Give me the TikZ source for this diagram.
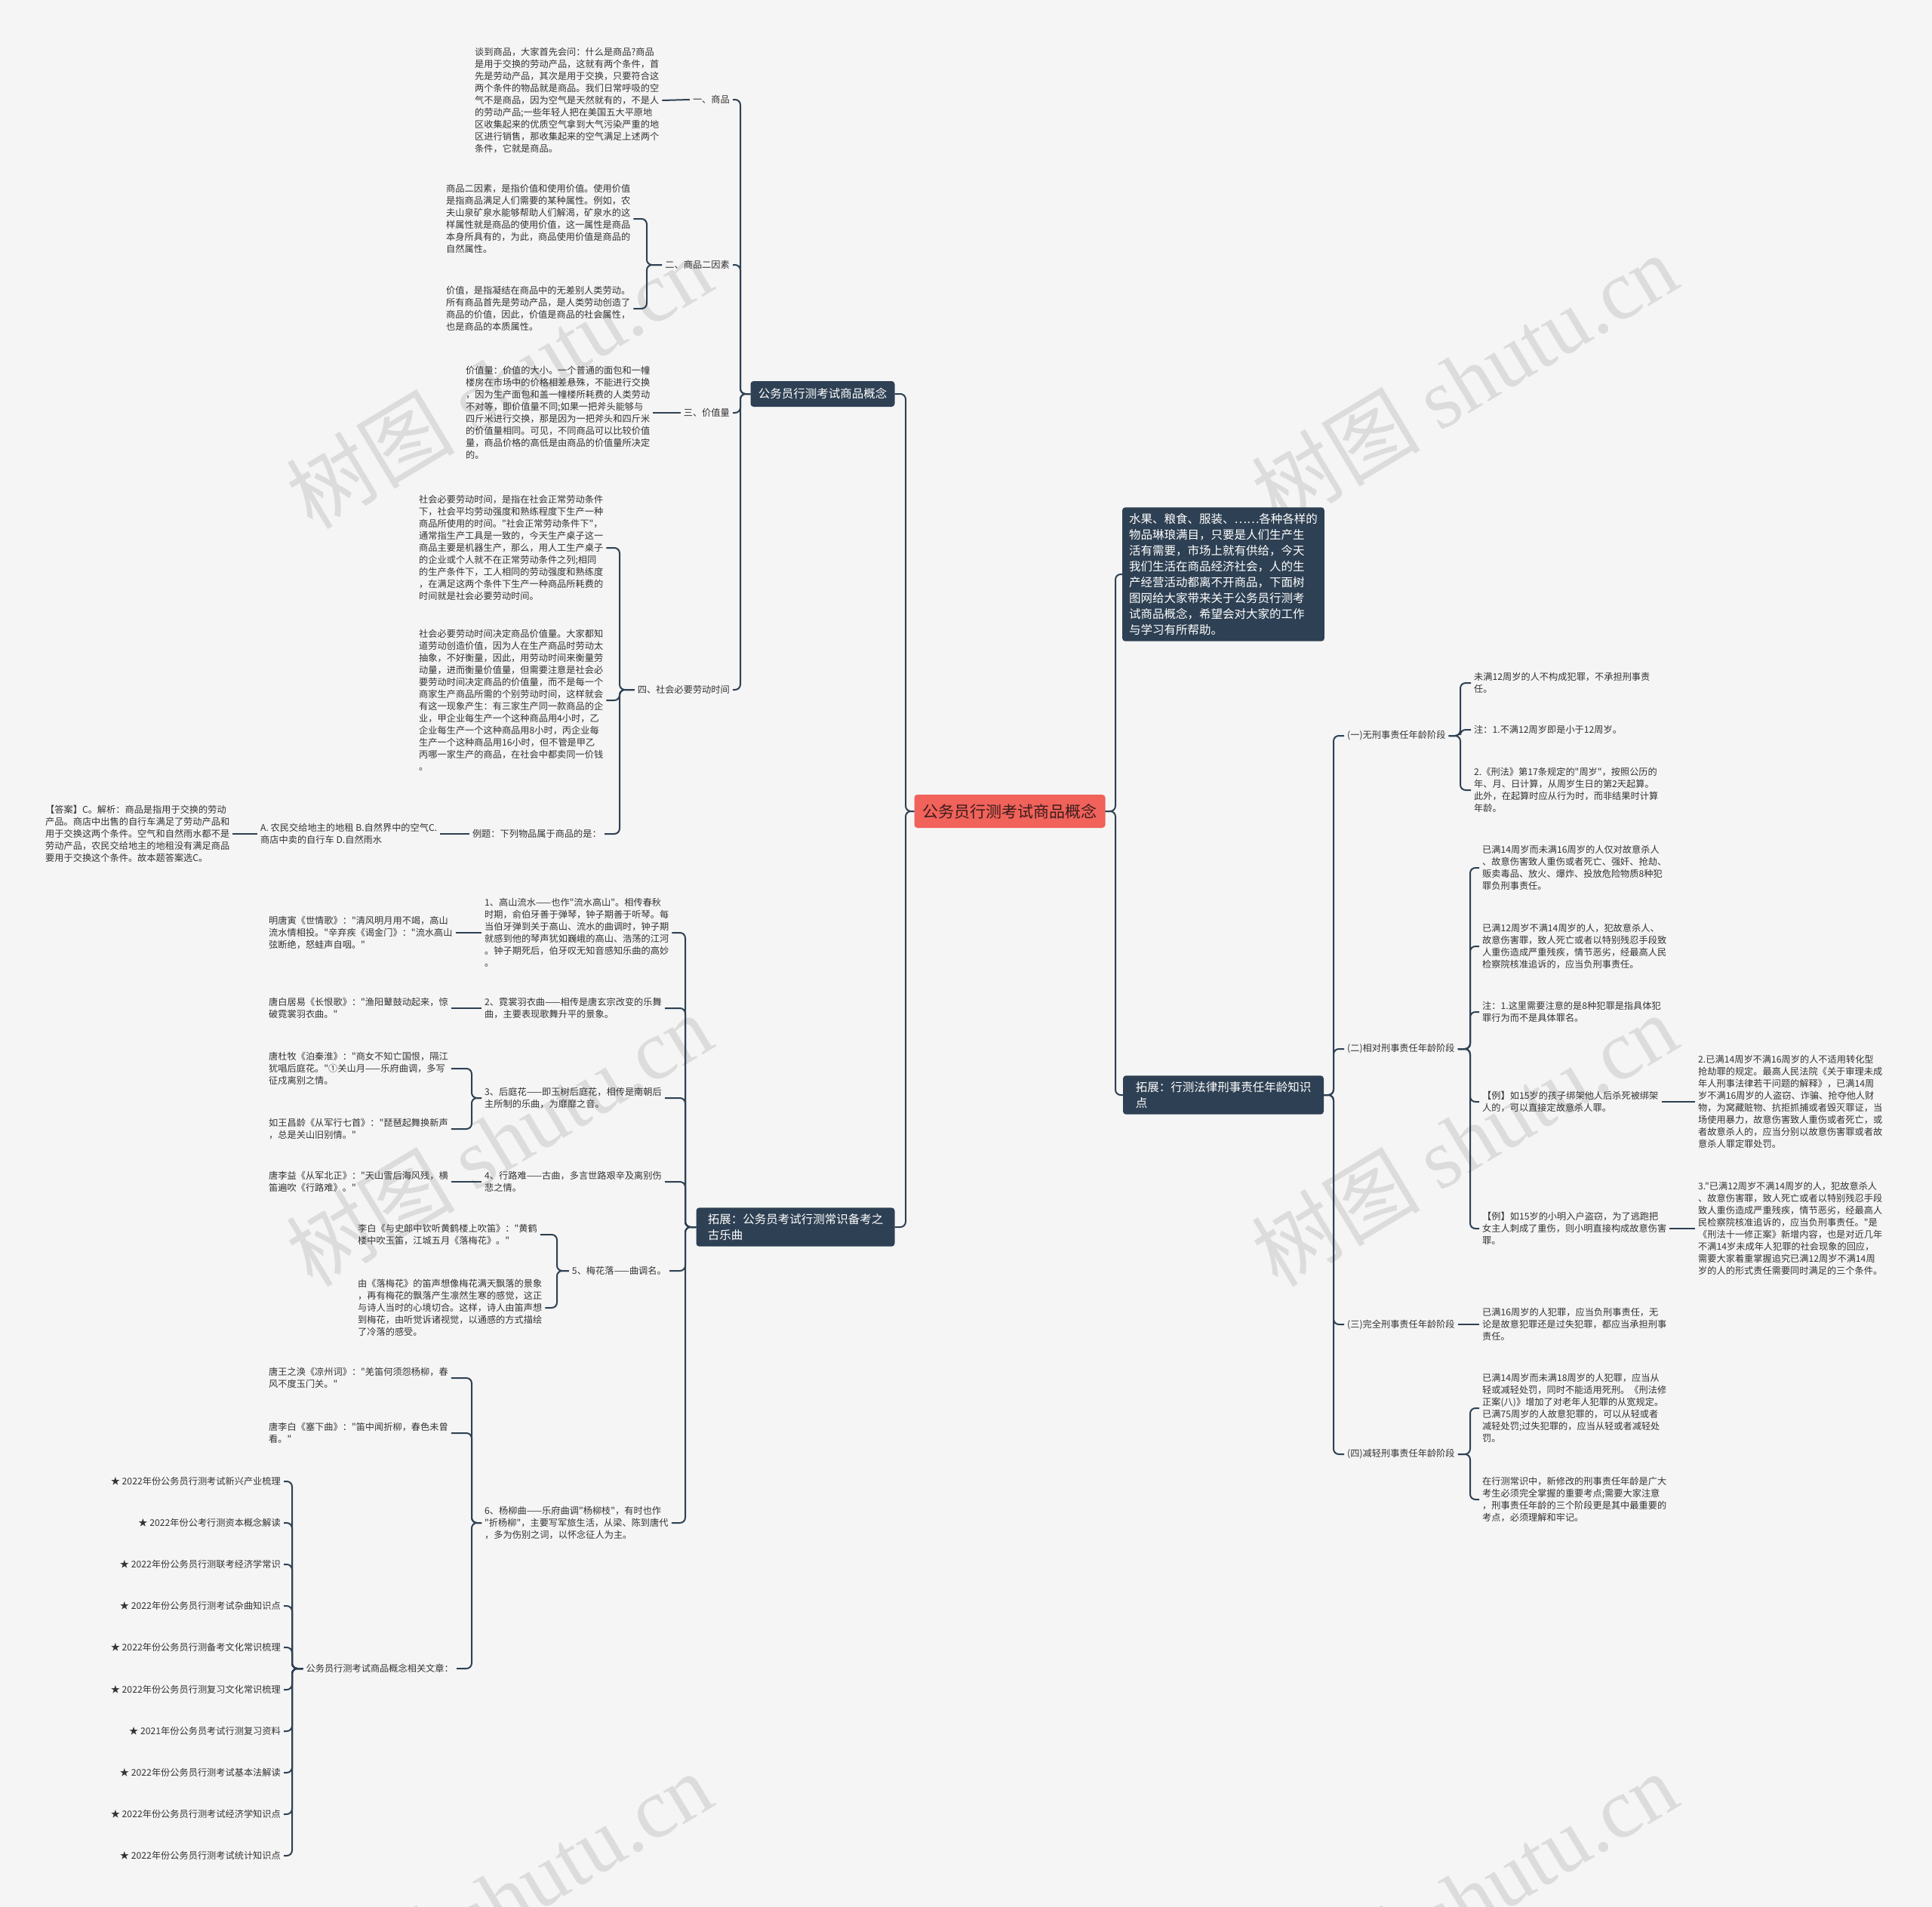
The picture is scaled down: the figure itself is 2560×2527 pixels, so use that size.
\documentclass[tikz,border=0pt]{standalone}
\usepackage{fontspec}
\setmainfont{Noto Sans CJK SC}
\newfontfamily\cjkf{Noto Sans CJK SC}
\newfontfamily\wmfont{Liberation Serif}
\definecolor{bg}{HTML}{F5F5F5}
\definecolor{dk}{HTML}{2E4053}
\definecolor{tc}{HTML}{333333}
\definecolor{rootc}{HTML}{F0625A}
\definecolor{roott}{HTML}{3A1C1C}
\definecolor{wm}{HTML}{DCDCDC}
\tikzset{
 conn/.style={draw=dk, line width=2pt, rounded corners=7pt},
 txt/.style={font=\cjkf\fontsize{12.2}{16}\selectfont, text=tc, align=left, inner xsep=4pt, inner ysep=2pt},
 branch/.style={fill=dk, text=white, rounded corners=4pt, font=\cjkf\fontsize{15.5}{21}\selectfont, align=left, inner xsep=9pt, inner ysep=8pt},
 rootnode/.style={fill=rootc, text=roott, rounded corners=4pt, font=\cjkf\fontsize{21}{24}\selectfont, minimum width=253pt, minimum height=44pt},
 wmark/.style={text=wm, rotate=31, font=\cjkf\fontsize{112}{112}\selectfont}
}
\begin{document}
\begin{tikzpicture}[x=1pt,y=-1pt]
\fill[bg] (0,0) rectangle (2560,2527);
\useasboundingbox (0,0) rectangle (2560,2527);
% watermarks
\foreach \wx/\wy [count=\wi] in {661/506,1940/503,661/1510,1940/1510,661/2515,1940/2515}
  \node[wmark] (wm\wi) at (\wx,\wy) {树图 {\wmfont shutu.cn}};

% trunks
\coordinate (trL) at (1200,0);
\coordinate (trR) at (1478,0);
\coordinate (trA) at (981,0);
\coordinate (tr2) at (857,0);
\coordinate (tr4) at (821,0);
\coordinate (trB) at (908,0);
\coordinate (tr3) at (625,0);
\coordinate (tr5) at (738,0);
\coordinate (tr6) at (625,0);
\coordinate (trS) at (387,0);
\coordinate (trC) at (1767,0);
\coordinate (trk1) at (1935,0);
\coordinate (trk2) at (1948,0);
\coordinate (trk4) at (1948,0);

% main nodes
\node[rootnode] (root) at (1338,1075) {公务员行测考试商品概念};
\node[branch, minimum width=191pt, minimum height=34pt, inner ysep=4pt] (A) at (1090,522) {公务员行测考试商品概念};
\node[branch, minimum width=263pt] (B) at (1054,1626) {拓展：公务员考试行测常识备考之\\古乐曲};
\node[branch, minimum width=266pt] (intro) at (1621,761) {水果、粮食、服装、……各种各样的\\物品琳琅满目，只要是人们生产生\\活有需要，市场上就有供给，今天\\我们生活在商品经济社会，人的生\\产经营活动都离不开商品，下面树\\图网给大家带来关于公务员行测考\\试商品概念，希望会对大家的工作\\与学习有所帮助。};
\node[branch, minimum width=266pt] (C) at (1621,1451) {拓展：行测法律刑事责任年龄知识\\点};

% ---- branch A ----
\node[txt, anchor=east] (l1) at (971,132) {一、商品};
\node[txt, anchor=west] (b1) at (625,133) {谈到商品，大家首先会问：什么是商品?商品\\是用于交换的劳动产品，这就有两个条件，首\\先是劳动产品，其次是用于交换，只要符合这\\两个条件的物品就是商品。我们日常呼吸的空\\气不是商品，因为空气是天然就有的，不是人\\的劳动产品;一些年轻人把在美国五大平原地\\区收集起来的优质空气拿到大气污染严重的地\\区进行销售，那收集起来的空气满足上述两个\\条件，它就是商品。};
\node[txt, anchor=east] (l2) at (971,351) {二、商品二因素};
\node[txt, anchor=west] (b21) at (587,290) {商品二因素，是指价值和使用价值。使用价值\\是指商品满足人们需要的某种属性。例如，农\\夫山泉矿泉水能够帮助人们解渴，矿泉水的这\\样属性就是商品的使用价值，这一属性是商品\\本身所具有的，为此，商品使用价值是商品的\\自然属性。};
\node[txt, anchor=west] (b22) at (587,409) {价值，是指凝结在商品中的无差别人类劳动。\\所有商品首先是劳动产品，是人类劳动创造了\\商品的价值，因此，价值是商品的社会属性，\\也是商品的本质属性。};
\node[txt, anchor=east] (l3) at (971,547) {三、价值量};
\node[txt, anchor=west] (b3) at (613,547) {价值量：价值的大小。一个普通的面包和一幢\\楼房在市场中的价格相差悬殊，不能进行交换\\，因为生产面包和盖一幢楼所耗费的人类劳动\\不对等，即价值量不同;如果一把斧头能够与\\四斤米进行交换，那是因为一把斧头和四斤米\\的价值量相同。可见，不同商品可以比较价值\\量，商品价格的高低是由商品的价值量所决定\\的。};
\node[txt, anchor=east] (l4) at (971,914) {四、社会必要劳动时间};
\node[txt, anchor=west] (b41) at (551,726) {社会必要劳动时间，是指在社会正常劳动条件\\下，社会平均劳动强度和熟练程度下生产一种\\商品所使用的时间。"社会正常劳动条件下"，\\通常指生产工具是一致的，今天生产桌子这一\\商品主要是机器生产，那么，用人工生产桌子\\的企业或个人就不在正常劳动条件之列;相同\\的生产条件下，工人相同的劳动强度和熟练度\\，在满足这两个条件下生产一种商品所耗费的\\时间就是社会必要劳动时间。};
\node[txt, anchor=west] (b42) at (551,928) {社会必要劳动时间决定商品价值量。大家都知\\道劳动创造价值，因为人在生产商品时劳动太\\抽象，不好衡量，因此，用劳动时间来衡量劳\\动量，进而衡量价值量，但需要注意是社会必\\要劳动时间决定商品的价值量，而不是每一个\\商家生产商品所需的个别劳动时间，这样就会\\有这一现象产生：有三家生产同一款商品的企\\业，甲企业每生产一个这种商品用4小时，乙\\企业每生产一个这种商品用8小时，丙企业每\\生产一个这种商品用16小时，但不管是甲乙\\丙哪一家生产的商品，在社会中都卖同一价钱\\。};
\node[txt, anchor=east] (l5) at (801,1105) {例题：下列物品属于商品的是：};
\node[txt, anchor=west] (b5) at (341,1105) {A. 农民交给地主的地租 B.自然界中的空气C.\\商店中卖的自行车 D.自然雨水};
\node[txt, anchor=west] (b6) at (56,1105) {【答案】C。解析：商品是指用于交换的劳动\\产品。商店中出售的自行车满足了劳动产品和\\用于交换这两个条件。空气和自然雨水都不是\\劳动产品，农民交给地主的地租没有满足商品\\要用于交换这个条件。故本题答案选C。};

% ---- branch B ----
\node[txt, anchor=west] (i1) at (638,1236) {1、高山流水——也作"流水高山"。相传春秋\\时期，俞伯牙善于弹琴，钟子期善于听琴。每\\当伯牙弹到关于高山、流水的曲调时，钟子期\\就感到他的琴声犹如巍峨的高山、浩荡的江河\\。钟子期死后，伯牙叹无知音感知乐曲的高妙\\。};
\node[txt, anchor=west] (j1) at (352,1236) {明唐寅《世情歌》："清风明月用不竭，高山\\流水情相投。"辛弃疾《谒金门》："流水高山\\弦断绝，怒蛙声自咽。"};
\node[txt, anchor=west] (i2) at (638,1336) {2、霓裳羽衣曲——相传是唐玄宗改变的乐舞\\曲，主要表现歌舞升平的景象。};
\node[txt, anchor=west] (j2) at (352,1336) {唐白居易《长恨歌》："渔阳鼙鼓动起来，惊\\破霓裳羽衣曲。"};
\node[txt, anchor=west] (i3) at (638,1455) {3、后庭花——即玉树后庭花，相传是南朝后\\主所制的乐曲，为靡靡之音。};
\node[txt, anchor=west] (j3a) at (352,1416) {唐杜牧《泊秦淮》："商女不知亡国恨，隔江\\犹唱后庭花。"①关山月——乐府曲调，多写\\征戍离别之情。};
\node[txt, anchor=west] (j3b) at (352,1496) {如王昌龄《从军行七首》："琵琶起舞换新声\\，总是关山旧别情。"};
\node[txt, anchor=west] (i4) at (638,1566) {4、行路难——古曲，多言世路艰辛及离别伤\\悲之情。};
\node[txt, anchor=west] (j4) at (352,1566) {唐李益《从军北正》："天山雪后海风残，横\\笛遍吹《行路难》。"};
\node[txt, anchor=east] (i5) at (887,1684) {5、梅花落——曲调名。};
\node[txt, anchor=west] (j5a) at (470,1636) {李白《与史郎中钦听黄鹤楼上吹笛》："黄鹤\\楼中吹玉笛，江城五月《落梅花》。"};
\node[txt, anchor=west] (j5b) at (470,1733) {由《落梅花》的笛声想像梅花满天飘落的景象\\，再有梅花的飘落产生凛然生寒的感觉，这正\\与诗人当时的心境切合。这样，诗人由笛声想\\到梅花，由听觉诉诸视觉，以通感的方式描绘\\了冷落的感受。};
\node[txt, anchor=west] (i6) at (638,2018) {6、杨柳曲——乐府曲调"杨柳枝"，有时也作\\"折杨柳"，主要写军旅生活，从梁、陈到唐代\\，多为伤别之词，以怀念征人为主。};
\node[txt, anchor=west] (j6a) at (352,1826) {唐王之涣《凉州词》："羌笛何须怨杨柳，春\\风不度玉门关。"};
\node[txt, anchor=west] (j6b) at (352,1899) {唐李白《塞下曲》："笛中闻折柳，春色未曾\\看。"};
\node[txt, anchor=east] (j6c) at (605,2211) {公务员行测考试商品概念相关文章：};
\node[txt, anchor=east] (s1) at (376,1963) {★ 2022年份公务员行测考试新兴产业梳理};
\node[txt, anchor=east] (s2) at (376,2018) {★ 2022年份公考行测资本概念解读};
\node[txt, anchor=east] (s3) at (376,2073) {★ 2022年份公务员行测联考经济学常识};
\node[txt, anchor=east] (s4) at (376,2128) {★ 2022年份公务员行测考试杂曲知识点};
\node[txt, anchor=east] (s5) at (376,2183) {★ 2022年份公务员行测备考文化常识梳理};
\node[txt, anchor=east] (s6) at (376,2239) {★ 2022年份公务员行测复习文化常识梳理};
\node[txt, anchor=east] (s7) at (376,2294) {★ 2021年份公务员考试行测复习资料};
\node[txt, anchor=east] (s8) at (376,2349) {★ 2022年份公务员行测考试基本法解读};
\node[txt, anchor=east] (s9) at (376,2404) {★ 2022年份公务员行测考试经济学知识点};
\node[txt, anchor=east] (s10) at (376,2459) {★ 2022年份公务员行测考试统计知识点};

% ---- branch C ----
\node[txt, anchor=west] (k1) at (1781,975) {(一)无刑事责任年龄阶段};
\node[txt, anchor=west] (c1) at (1949,905) {未满12周岁的人不构成犯罪，不承担刑事责\\任。};
\node[txt, anchor=west] (c2) at (1949,967) {注：1.不满12周岁即是小于12周岁。};
\node[txt, anchor=west] (c3) at (1949,1047) {2.《刑法》第17条规定的"周岁"，按照公历的\\年、月、日计算，从周岁生日的第2天起算。\\此外，在起算时应从行为时，而非结果时计算\\年龄。};
\node[txt, anchor=west] (k2) at (1781,1390) {(二)相对刑事责任年龄阶段};
\node[txt, anchor=west] (d1) at (1960,1150) {已满14周岁而未满16周岁的人仅对故意杀人\\、故意伤害致人重伤或者死亡、强奸、抢劫、\\贩卖毒品、放火、爆炸、投放危险物质8种犯\\罪负刑事责任。};
\node[txt, anchor=west] (d2) at (1960,1254) {已满12周岁不满14周岁的人，犯故意杀人、\\故意伤害罪，致人死亡或者以特别残忍手段致\\人重伤造成严重残疾，情节恶劣，经最高人民\\检察院核准追诉的，应当负刑事责任。};
\node[txt, anchor=west] (d3) at (1960,1341) {注：1.这里需要注意的是8种犯罪是指具体犯\\罪行为而不是具体罪名。};
\node[txt, anchor=west] (d4) at (1960,1460) {【例】如15岁的孩子绑架他人后杀死被绑架\\人的，可以直接定故意杀人罪。};
\node[txt, anchor=west] (e1) at (2246,1460) {2.已满14周岁不满16周岁的人不适用转化型\\抢劫罪的规定。最高人民法院《关于审理未成\\年人刑事法律若干问题的解释》，已满14周\\岁不满16周岁的人盗窃、诈骗、抢夺他人财\\物，为窝藏赃物、抗拒抓捕或者毁灭罪证，当\\场使用暴力，故意伤害致人重伤或者死亡，或\\者故意杀人的，应当分别以故意伤害罪或者故\\意杀人罪定罪处罚。};
\node[txt, anchor=west] (d5) at (1960,1628) {【例】如15岁的小明入户盗窃，为了逃跑把\\女主人刺成了重伤，则小明直接构成故意伤害\\罪。};
\node[txt, anchor=west] (e2) at (2246,1628) {3."已满12周岁不满14周岁的人，犯故意杀人\\、故意伤害罪，致人死亡或者以特别残忍手段\\致人重伤造成严重残疾，情节恶劣，经最高人\\民检察院核准追诉的，应当负刑事责任。"是\\《刑法十一修正案》新增内容，也是对近几年\\不满14岁未成年人犯罪的社会现象的回应，\\需要大家着重掌握追究已满12周岁不满14周\\岁的人的形式责任需要同时满足的三个条件。};
\node[txt, anchor=west] (k3) at (1781,1755) {(三)完全刑事责任年龄阶段};
\node[txt, anchor=west] (f1) at (1960,1755) {已满16周岁的人犯罪，应当负刑事责任，无\\论是故意犯罪还是过失犯罪，都应当承担刑事\\责任。};
\node[txt, anchor=west] (k4) at (1781,1927) {(四)减轻刑事责任年龄阶段};
\node[txt, anchor=west] (g1) at (1960,1866) {已满14周岁而未满18周岁的人犯罪，应当从\\轻或减轻处罚，同时不能适用死刑。《刑法修\\正案(八)》增加了对老年人犯罪的从宽规定。\\已满75周岁的人故意犯罪的，可以从轻或者\\减轻处罚;过失犯罪的，应当从轻或者减轻处\\罚。};
\node[txt, anchor=west] (g2) at (1960,1987) {在行测常识中，新修改的刑事责任年龄是广大\\考生必须完全掌握的重要考点;需要大家注意\\，刑事责任年龄的三个阶段更是其中最重要的\\考点，必须理解和牢记。};

% ---- connectors ----
\foreach \c in {A,B} \draw[conn] (root.west) -- (root.west -| trL) |- (\c.east);
\foreach \c in {intro,C} \draw[conn] (root.east) -- (root.east -| trR) |- (\c.west);

\foreach \c in {l1,l2,l3,l4} \draw[conn] (A.west) -- (A.west -| trA) |- (\c.east);
\draw[conn] (l1.west) -- (b1.east);
\foreach \c in {b21,b22} \draw[conn] (l2.west) -- (l2.west -| tr2) |- (\c.east);
\draw[conn] (l3.west) -- (b3.east);
\foreach \c in {b41,b42,l5} \draw[conn] (l4.west) -- (l4.west -| tr4) |- (\c.east);
\draw[conn] (l5.west) -- (b5.east);
\draw[conn] (b5.west) -- (b6.east);

\foreach \c in {i1,i2,i3,i4,i5,i6} \draw[conn] (B.west) -- (B.west -| trB) |- (\c.east);
\draw[conn] (i1.west) -- (j1.east);
\draw[conn] (i2.west) -- (j2.east);
\foreach \c in {j3a,j3b} \draw[conn] (i3.west) -- (i3.west -| tr3) |- (\c.east);
\draw[conn] (i4.west) -- (j4.east);
\foreach \c in {j5a,j5b} \draw[conn] (i5.west) -- (i5.west -| tr5) |- (\c.east);
\foreach \c in {j6a,j6b,j6c} \draw[conn] (i6.west) -- (i6.west -| tr6) |- (\c.east);
\foreach \c in {s1,s2,s3,s4,s5,s6,s7,s8,s9,s10} \draw[conn] (j6c.west) -- (j6c.west -| trS) |- (\c.east);

\foreach \c in {k1,k2,k3,k4} \draw[conn] (C.east) -- (C.east -| trC) |- (\c.west);
\foreach \c in {c1,c2,c3} \draw[conn] (k1.east) -- (k1.east -| trk1) |- (\c.west);
\foreach \c in {d1,d2,d3,d4,d5} \draw[conn] (k2.east) -- (k2.east -| trk2) |- (\c.west);
\draw[conn] (d4.east) -- (e1.west);
\draw[conn] (d5.east) -- (e2.west);
\draw[conn] (k3.east) -- (f1.west);
\foreach \c in {g1,g2} \draw[conn] (k4.east) -- (k4.east -| trk4) |- (\c.west);
\end{tikzpicture}
\end{document}
